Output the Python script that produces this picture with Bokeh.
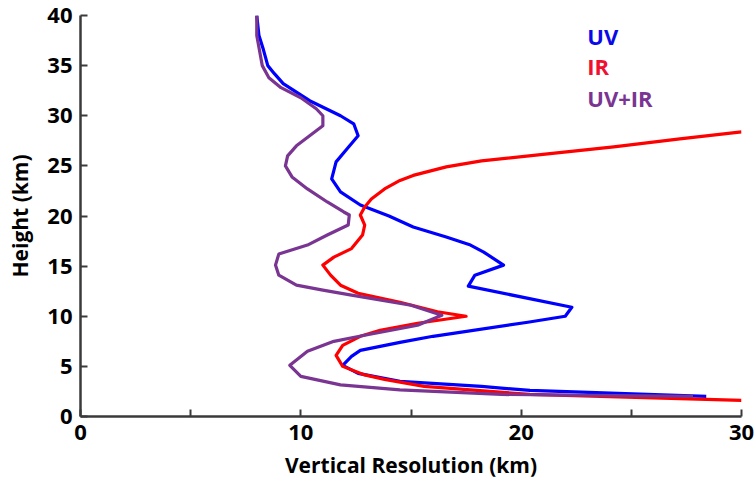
from bokeh.plotting import figure
from bokeh.models import FixedTicker, Range1d
from bokeh.core.properties import value
from bokeh.embed import file_html
from bokeh.resources import INLINE

# ---- data ----
uv_res = [28.4, 20.4, 18.2, 14.5, 12.6, 11.9, 12.3, 12.7, 14.5, 16.0, 20.3, 22.0, 22.3,
          17.6, 17.9, 19.2, 18.3, 17.7, 16.6, 15.1, 14.0, 12.7, 11.8, 11.4, 11.6, 12.1,
          12.6, 12.4, 11.8, 10.4, 9.2, 8.8, 8.5, 8.3, 8.1, 8.0]
uv_h = [2.0, 2.6, 3.0, 3.5, 4.3, 5.1, 6.0, 6.6, 7.4, 8.0, 9.4, 10.0, 10.9,
        13.0, 14.1, 15.1, 16.4, 17.1, 17.9, 18.9, 20.0, 21.1, 22.4, 23.7, 25.4, 26.7,
        28.0, 29.2, 30.0, 31.5, 33.2, 34.2, 35.0, 36.6, 38.0, 40.0]

ir_res = [30.0, 20.4, 15.6, 13.8, 12.9, 11.9, 11.6, 11.9, 12.7, 13.6, 15.3, 17.5, 16.2,
          14.5, 12.6, 11.8, 11.35, 11.0, 11.5, 12.3, 12.8, 12.9, 12.7, 12.9, 13.2, 13.8,
          14.5, 15.1, 16.6, 18.2, 21.2, 24.2, 27.2, 30.0]
ir_h = [1.6, 2.2, 3.0, 3.7, 4.15, 5.0, 6.1, 7.1, 8.0, 8.6, 9.3, 10.0, 10.45,
        11.4, 12.3, 13.1, 14.1, 15.1, 15.9, 16.75, 18.1, 19.1, 20.1, 20.9, 21.7, 22.7,
        23.55, 24.05, 24.9, 25.5, 26.2, 26.9, 27.7, 28.4]

uvir_res = [27.8, 19.1, 14.5, 11.8, 10.0, 9.5, 10.3, 11.5, 12.9, 15.3, 16.4, 15.0, 12.3,
            11.0, 9.8, 9.0, 8.85, 9.0, 10.3, 11.2, 12.15, 12.2, 11.95, 11.2, 10.3, 9.6,
            9.3, 9.4, 9.8, 10.4, 11.0, 11.0, 10.7, 10.0, 9.1, 8.55, 8.25, 8.0, 8.0]
uvir_h = [2.0, 2.2, 2.65, 3.15, 4.0, 5.1, 6.5, 7.5, 8.1, 9.1, 10.1, 11.1, 12.1,
          12.6, 13.1, 14.1, 15.1, 16.2, 17.1, 18.1, 19.1, 20.1, 20.4, 21.4, 22.7, 23.9,
          25.0, 26.0, 27.0, 28.0, 29.0, 30.0, 30.7, 31.8, 32.8, 33.8, 35.0, 38.0, 40.0]

series_names = ["UV", "IR", "UV+IR"]
x_ticks = [0, 5, 10, 15, 20, 25, 30]
x_tick_labels = ["0", "", "10", "", "20", "", "30"]
y_ticks = [0, 5, 10, 15, 20, 25, 30, 35, 40]

colors = ["#0000FF", "#FF0000", "#7A3592"]
text_colors = ["#0A0AE8", "#F01030", "#7A3592"]
FONT = "Open Sans"

p = figure(width=754, height=486, output_backend="svg", toolbar_location=None,
           x_range=Range1d(0, 30), y_range=Range1d(0, 40),
           min_border_left=80, min_border_right=13, min_border_top=15, min_border_bottom=70)
p.outline_line_color = None
p.grid.visible = False
p.background_fill_color = "white"
p.border_fill_color = "white"

for xs, ys, c in zip([uv_res, ir_res, uvir_res], [uv_h, ir_h, uvir_h], colors):
    p.line(xs, ys, line_color=c, line_width=3.2, line_join="round")

# legend as coloured text
leg_y = [38.0, 35.0, 31.8]
for name, yy, tc in zip(series_names, leg_y, text_colors):
    p.text(x=[23.0], y=[yy], text=[name], text_color=tc, text_font=value(FONT),
           text_font_style="bold", text_font_size="22px", text_baseline="middle",
           text_align="left")

p.xaxis.ticker = FixedTicker(ticks=x_ticks)
p.xaxis.major_label_overrides = {t: l for t, l in zip(x_ticks, x_tick_labels)}
p.yaxis.ticker = FixedTicker(ticks=y_ticks)

for ax in (p.xaxis[0], p.yaxis[0]):
    ax.axis_line_color = "#3a3a3a"
    ax.axis_line_width = 2.5
    ax.major_tick_line_color = "#3a3a3a"
    ax.major_tick_line_width = 2
    ax.major_tick_in = 7
    ax.major_tick_out = 0
    ax.minor_tick_line_color = None
    ax.major_label_text_font = FONT
    ax.major_label_text_font_style = "bold"
    ax.major_label_text_font_size = "22px"
    ax.major_label_text_color = "black"
    ax.axis_label_text_font = FONT
    ax.axis_label_text_font_style = "bold"
    ax.axis_label_text_font_size = "21px"
    ax.axis_label_text_color = "black"

p.xaxis.axis_label = "Vertical Resolution (km)"
p.yaxis.axis_label = "Height (km)"
p.xaxis.major_label_standoff = 8
p.yaxis.major_label_standoff = 8
p.xaxis.axis_label_standoff = 8
p.yaxis.axis_label_standoff = 10

open("out.html", "w").write(file_html(p, INLINE))
